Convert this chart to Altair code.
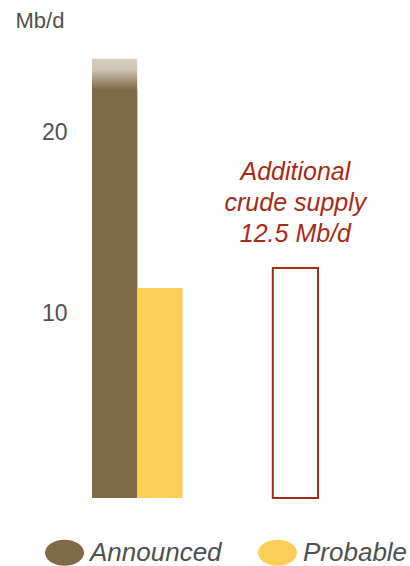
import altair as alt
import pandas as pd

# ---- data ----
categories = ["Announced", "Probable"]
values = [22.35, 11.4]
fade_top = 24.06
additional_cat = "Additional"
additional_value = 12.5
annotation = ["Additional", "crude supply", "12.5 Mb/d"]
slots = ["Announced", "Probable", "gap1", "gap2", "Additional"]
y_ticks = [10, 20]
y_min = -0.2
y_max = 25.1

BROWN = "#7f6a47"
YELLOW = "#fbcf56"
RED = "#a62a18"
GRAY = "#505050"
FONT = "Liberation Sans"
ELLIPSE = "M -1 0 A 1 0.667 0 1 1 1 0 A 1 0.667 0 1 1 -1 0 Z"

bars_df = pd.DataFrame({"cat": categories, "value": values, "base": [y_min] * len(categories)})
fade_df = pd.DataFrame({"cat": [categories[0]], "value": [fade_top], "base": [y_min]})
box_df = pd.DataFrame({"cat": [additional_cat], "value": [additional_value], "base": [y_min]})
note_df = pd.DataFrame({"cat": [additional_cat], "value": [additional_value], "text": [annotation]})

# gradient: solid brown up to the announced value, then fading towards the top
start = (values[0] - y_min) / (fade_top - y_min)
light = start + 0.65 * (1 - start)

x_enc = alt.X("cat:N", scale=alt.Scale(domain=slots, paddingInner=0, paddingOuter=0), axis=None)
y_scale = alt.Scale(domain=[y_min, y_max], nice=False, zero=False)
y_axis = alt.Axis(
    values=y_ticks, title="Mb/d", titleAngle=0, titleX=-77, titleY=-13,
    titleAlign="left", titleBaseline="alphabetic", titleFontSize=22,
    titleFontWeight="normal", titleColor=GRAY, titleFont=FONT,
    labelFontSize=23, labelColor=GRAY, labelFont=FONT, labelPadding=25,
    ticks=False, domain=False, grid=False,
)

box = alt.Chart(box_df).mark_bar(fill="white", stroke=RED, strokeWidth=2).encode(
    x=x_enc,
    y=alt.Y("value:Q", scale=y_scale, axis=y_axis),
    y2="base:Q",
)

fade = alt.Chart(fade_df).mark_bar(
    color=alt.Gradient(
        gradient="linear",
        stops=[
            alt.GradientStop(color=BROWN, offset=0),
            alt.GradientStop(color=BROWN, offset=start),
            alt.GradientStop(color="#cdc4b3", offset=light),
            alt.GradientStop(color="#d5cec0", offset=1),
        ],
        x1=0, x2=0, y1=1, y2=0,
    )
).encode(
    x=x_enc,
    y=alt.Y("value:Q", scale=y_scale),
    y2="base:Q",
)

bars = alt.Chart(bars_df).mark_bar().encode(
    x=x_enc,
    y=alt.Y("value:Q", scale=y_scale),
    y2="base:Q",
    color=alt.Color(
        "cat:N",
        scale=alt.Scale(domain=categories, range=[BROWN, YELLOW]),
        legend=alt.Legend(
            title=None, orient="none", legendX=-47, legendY=493,
            direction="horizontal", symbolType=ELLIPSE, symbolSize=1521,
            symbolStrokeWidth=0, symbolOpacity=1,
            labelFontSize=26, labelFontStyle="italic", labelFont=FONT,
            labelColor=GRAY, labelOffset=6, columnPadding=36,
        ),
    ),
)

note = alt.Chart(note_df).mark_text(
    font=FONT, fontSize=25, fontStyle="italic", color=RED,
    align="center", baseline="alphabetic", lineHeight=31, dy=-88,
).encode(
    x=x_enc,
    y=alt.Y("value:Q", scale=y_scale),
    text="text",
)

chart = (
    alt.layer(box, fade, bars, note)
    .properties(
        width=226, height=458,
        autosize=alt.AutoSizeParams(type="none"),
        padding={"left": 92, "top": 40, "right": 92, "bottom": 68},
    )
    .configure_view(strokeWidth=0)
)

chart.save("out.html", embed_options={"renderer": "svg", "actions": False})
